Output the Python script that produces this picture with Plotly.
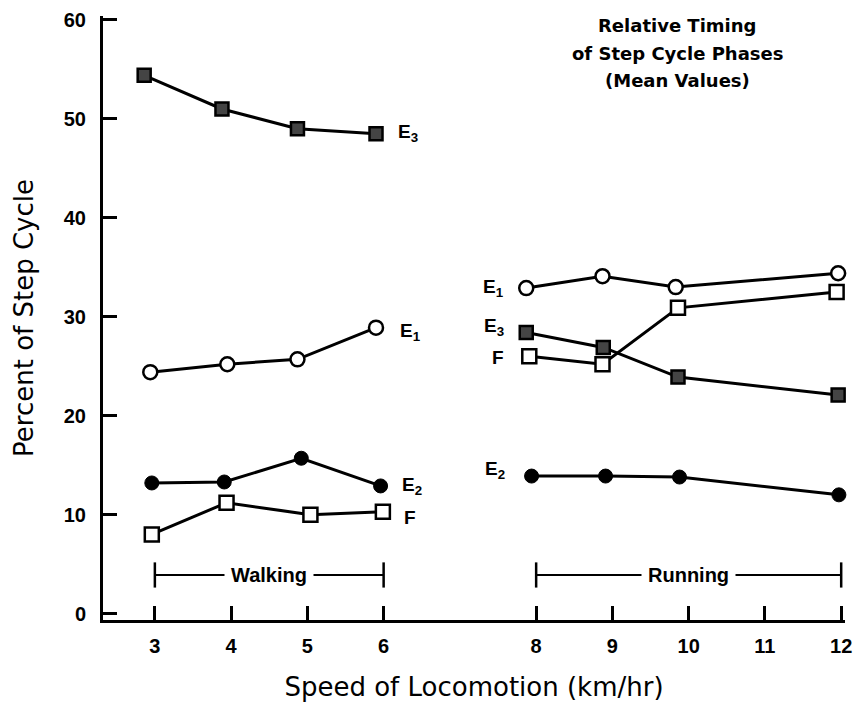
import plotly.graph_objects as go

# ---- data ----
walk_E3_x = [2.86, 3.88, 4.87, 5.90]
walk_E3_y = [54.4, 51.0, 49.0, 48.5]
walk_E1_x = [2.94, 3.95, 4.87, 5.90]
walk_E1_y = [24.4, 25.2, 25.7, 28.9]
walk_E2_x = [2.96, 3.91, 4.92, 5.96]
walk_E2_y = [13.2, 13.3, 15.7, 12.9]
walk_F_x = [2.96, 3.94, 5.04, 5.99]
walk_F_y = [8.0, 11.2, 10.0, 10.3]

run_E1_x = [7.87, 8.87, 9.83, 11.96]
run_E1_y = [32.9, 34.1, 33.0, 34.4]
run_E3_x = [7.87, 8.88, 9.86, 11.96]
run_E3_y = [28.4, 26.9, 23.9, 22.1]
run_F_x = [7.91, 8.87, 9.86, 11.94]
run_F_y = [26.0, 25.2, 30.9, 32.5]
run_E2_x = [7.94, 8.91, 9.88, 11.97]
run_E2_y = [13.9, 13.9, 13.8, 12.0]

x_tickvals = [3, 4, 5, 6, 8, 9, 10, 11, 12]
x_ticktext = ["3", "4", "5", "6", "8", "9", "10", "11", "12"]
y_tickvals = [0, 10, 20, 30, 40, 50, 60]

walk_range = [3, 6]
run_range = [8, 12]
bracket_y = 3.9

# series labels: text, x, y, anchor
labels = [
    ("E<sub>3</sub>", 6.16, 48.6, "left"),
    ("E<sub>1</sub>", 6.19, 28.5, "left"),
    ("E<sub>2</sub>", 6.22, 12.9, "left"),
    ("F", 6.24, 9.7, "left"),
    ("E<sub>1</sub>", 7.60, 32.9, "right"),
    ("E<sub>3</sub>", 7.60, 29.0, "right"),
    ("F", 7.60, 25.9, "right"),
    ("E<sub>2</sub>", 7.62, 14.5, "right"),
]

title_lines = ["Relative Timing", "of Step Cycle Phases", "(Mean Values)"]

# ---- styles ----
LINE_W = 3
styles = {
    "E3": dict(symbol="square", size=13, color="#444", line=dict(color="black", width=2.5)),
    "E1": dict(symbol="circle", size=14, color="white", line=dict(color="black", width=2.5)),
    "E2": dict(symbol="circle", size=14, color="black", line=dict(color="black", width=1)),
    "F": dict(symbol="square", size=14, color="white", line=dict(color="black", width=2.5)),
}

series = [
    ("E3", walk_E3_x, walk_E3_y), ("E1", walk_E1_x, walk_E1_y),
    ("E2", walk_E2_x, walk_E2_y), ("F", walk_F_x, walk_F_y),
    ("E1", run_E1_x, run_E1_y), ("E3", run_E3_x, run_E3_y),
    ("F", run_F_x, run_F_y), ("E2", run_E2_x, run_E2_y),
]

fig = go.Figure()
for name, xs, ys in series:
    fig.add_trace(go.Scatter(
        x=xs, y=ys, mode="lines+markers", name=name, showlegend=False,
        line=dict(color="black", width=LINE_W),
        marker=styles[name], cliponaxis=False,
    ))

# walking / running brackets
for rng in (walk_range, run_range):
    fig.add_trace(go.Scatter(
        x=rng, y=[bracket_y, bracket_y], mode="lines+markers", showlegend=False,
        line=dict(color="black", width=2),
        marker=dict(symbol="line-ns", size=18, line=dict(color="black", width=2.5)),
        cliponaxis=False,
    ))

annotations = []
for txt, rng in (("Walking", walk_range), ("Running", run_range)):
    annotations.append(dict(
        x=sum(rng) / 2, y=bracket_y, xref="x", yref="y", text=txt, showarrow=False,
        bgcolor="white", borderpad=6,
        font=dict(family="Liberation Sans", size=20, color="black", weight="bold"),
    ))

for txt, lx, ly, anc in labels:
    annotations.append(dict(
        x=lx, y=ly, xref="x", yref="y", text=txt, showarrow=False,
        xanchor=anc, yanchor="middle",
        font=dict(family="Liberation Sans", size=19, color="black", weight="bold"),
    ))

for i, line in enumerate(title_lines):
    annotations.append(dict(
        x=0.774, y=0.9835 - 0.0453 * i, xref="paper", yref="paper", text=line,
        showarrow=False, xanchor="center", yanchor="middle",
        font=dict(family="DejaVu Sans", size=18, color="black", weight="bold"),
    ))

fig.update_layout(
    width=861, height=706,
    margin=dict(l=103, r=9, t=15, b=84),
    paper_bgcolor="white", plot_bgcolor="white",
    font=dict(family="Liberation Sans", color="black"),
    annotations=annotations,
    xaxis=dict(
        range=[2.32, 12.05], tickvals=x_tickvals, ticktext=x_ticktext,
        showgrid=False, zeroline=False, showline=True, linecolor="black", linewidth=3,
        ticks="inside", ticklen=14, tickwidth=3, tickcolor="black",
        ticklabelstandoff=6,
        tickfont=dict(family="Liberation Sans", size=20, color="black", weight="bold"),
        title=dict(text="Speed of Locomotion (km/hr)", standoff=22,
                   font=dict(family="DejaVu Sans", size=26, color="black")),
    ),
    yaxis=dict(
        range=[-0.65, 60.4], tickvals=y_tickvals,
        showgrid=False, zeroline=False, showline=True, linecolor="black", linewidth=3,
        ticks="inside", ticklen=14, tickwidth=2.5, tickcolor="black",
        ticklabelstandoff=10,
        tickfont=dict(family="Liberation Sans", size=20, color="black", weight="bold"),
        title=dict(text="Percent of Step Cycle", standoff=23,
                   font=dict(family="DejaVu Sans", size=26, color="black")),
    ),
)

fig.write_html("out.html")
